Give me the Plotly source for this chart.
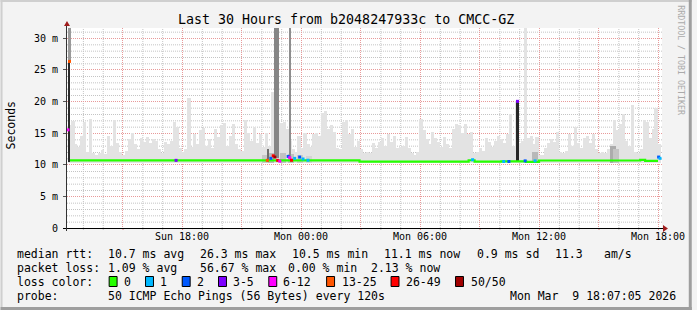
import numpy as np
import plotly.graph_objects as go

# ---------------- data (time in hours since graph start; 30 h window) ----------------
title_text = "Last 30 Hours from b2048247933c to CMCC-GZ"
x_tick_hours = [2.8, 5.8, 8.8, 11.8, 14.8, 17.8, 20.8, 23.8, 26.8, 29.8]
x_tick_labels = ["", "Sun 18:00", "", "Mon 00:00", "", "Mon 06:00", "", "Mon 12:00", "", "Mon 18:00"]
x_minor_hours = [0.8, 1.8, 3.8, 4.8, 6.8, 7.8, 9.8, 10.8, 12.8, 13.8, 15.8, 16.8,
                 18.8, 19.8, 21.8, 22.8, 24.8, 25.8, 27.8, 28.8]
y_tick_vals = [0, 5, 10, 15, 20, 25, 30]
y_tick_labels = ["0", "5 m", "10 m", "15 m", "20 m", "25 m", "30 m"]
y_minor_vals = [1, 2, 3, 4, 6, 7, 8, 9, 11, 12, 13, 14, 16, 17, 18, 19,
                21, 22, 23, 24, 26, 27, 28, 29, 31]

# smoke (max ping rtt, ms) sampled every 0.15 h starting at 0.15 h
smoke_start = 0.15
smoke_step = 0.15
smoke_base = 10.3
smoke_hi = [
    16.3, 16.9, 13.2, 12.8, 14.6, 16.8, 12.0, 17.2, 11.8, 11.6,
    11.9, 12.3, 11.7, 14.5, 13.0, 17.0, 13.5, 12.0, 11.6, 12.2,
    14.0, 15.0, 13.2, 12.5, 14.2, 13.6, 14.3, 13.4, 14.0, 13.8,
    12.4, 11.8, 13.6, 13.2, 13.8, 16.8, 15.9, 12.6, 12.0, 12.4,
    20.5, 12.8, 14.8, 13.2, 15.4, 15.8, 13.0, 14.0, 12.6, 15.6,
    14.4, 16.2, 16.6, 13.0, 14.6, 16.4, 13.2, 12.4, 12.2, 17.0,
    15.0, 13.8, 16.0, 13.4, 14.8, 12.8, 15.0, 13.0, 21.5, 19.0,
    17.0, 16.6, 16.8, 15.6, 13.8, 12.4, 12.0, 14.6, 12.6, 15.0,
    13.2, 12.8, 14.8, 15.0, 14.6, 18.2, 18.4, 15.6, 16.2, 15.2,
    12.6, 12.4, 16.8, 17.0, 14.8, 15.6, 12.8, 13.8, 12.4, 11.8,
    12.0, 11.8, 13.4, 12.6, 13.6, 14.2, 13.0, 14.8, 13.6, 14.6,
    12.6, 12.8, 13.0, 14.4, 12.6, 11.8, 11.6, 12.0, 17.2, 15.4,
    14.0, 13.2, 15.2, 14.2, 13.6, 12.8, 14.4, 13.2, 12.6, 15.6,
    16.4, 16.2, 15.0, 16.4, 14.8, 15.2, 11.8, 12.0, 12.6, 12.2,
    14.2, 13.6, 12.8, 13.8, 14.6, 14.0, 13.4, 14.8, 18.0, 13.0,
    20.0, 13.4, 13.8, 31.6, 14.2, 14.6, 13.2, 14.4, 11.6, 11.6,
    12.6, 13.4, 14.0, 13.6, 15.2, 12.0, 11.8, 12.2, 14.8, 13.0,
    16.0, 13.4, 12.6, 14.2, 14.6, 13.4, 14.8, 12.4, 11.8, 12.0,
    11.8, 12.4, 13.2, 17.0, 15.4, 16.4, 18.0, 13.8, 13.0, 19.5,
    12.0, 11.8, 12.4, 17.0, 16.8, 14.2, 15.6, 19.0, 13.2,
]

# darker smoke cores near the median (dense pings)
core_t = [10.0, 10.3, 10.9, 11.3, 11.75, 12.2, 23.6, 27.55, 27.7]
core_hi = [11.6, 11.9, 11.8, 11.7, 11.5, 11.3, 12.0, 13.0, 12.4]
core_shade = ["#c8c8c8", "#bababa", "#c2c2c2", "#c0c0c0", "#cccccc", "#d4d4d4",
              "#b8b8b8", "#acacac", "#c4c4c4"]

# spikes (pings way above the median)
spike_t = [0.1, 0.15, 10.15, 10.525, 10.65, 11.265, 22.715]
spike_lo = [10.5, 26.3, 10.5, 11.0, 11.0, 11.0, 10.5]
spike_hi = [26.3, 31.6, 12.4, 31.6, 31.6, 31.6, 20.0]
spike_shade = ["#2b2b2b", "#9a9a9a", "#6e6e6e", "#868686", "#868686", "#8e8e8e", "#262626"]

# median rtt (step line, green = no loss)
med_t = [0.15, 14.75, 20.25, 20.55, 21.9, 23.15, 23.8, 28.9, 29.15, 29.8]
med_v = [10.68, 10.48, 10.70, 10.48, 10.52, 10.45, 10.66, 10.76, 10.60, 10.60]

# loss colours
loss_colors = ["#26ff00", "#00b8ff", "#0059ff", "#7e00ff", "#ff00ff", "#ff5500", "#ff0000", "#a10000"]
loss_labels = ["0", "1", "2", "3-5", "6-12", "13-25", "26-49", "50/50"]

# median samples with packet loss
loss_t = [0.05, 0.125, 5.5, 10.1, 10.28, 10.4, 10.48, 10.62, 10.73, 11.15, 11.23, 11.32,
          11.48, 11.73, 11.9, 12.15, 20.45, 22.02, 22.28, 22.715, 23.1, 23.6, 29.83, 29.9]
loss_ms = [15.5, 26.3, 10.68, 10.68, 11.0, 11.4, 11.2, 10.68, 10.55, 11.3, 11.1, 10.7,
           11.0, 11.2, 10.9, 10.7, 10.78, 10.5, 10.5, 20.0, 10.6, 10.6, 11.2, 11.0]
loss_idx = [4, 5, 3, 5, 2, 6, 7, 6, 4, 2, 4, 6, 1, 2, 1, 1, 1, 1, 2, 3, 2, 1, 2, 1]

legend_rows = [
    [("median rtt:", 16), ("10.7 ms avg", 107.3), ("26.3 ms max", 200), ("10.5 ms min", 293.3),
     ("11.1 ms now", 386), ("0.9 ms sd", 479.3), ("11.3", 558.3), ("am/s", 607.3)],
    [("packet loss:", 16), ("1.09 % avg", 107.3), ("56.67 % max", 200), ("0.00 % min", 289),
     ("2.13 % now", 372.7)],
    [("loss color:", 16)],
    [("probe:", 16), ("50 ICMP Echo Pings (56 Bytes) every 120s", 107.3),
     ("Mon Mar  9 18:07:05 2026", 512.7)],
]
legend_row_y = [254.3, 268.3, 282.3, 296.3]
loss_box_x = [109, 145.7, 182.7, 219.3, 270, 328.3, 393.3, 458.3]
loss_label_x = [123.3, 160, 197.3, 233.3, 283.3, 343.3, 408.3, 473.3]

# ---------------- layout geometry ----------------
W, H = 697, 310
PL, PR, PT, PB = 67, 667, 28, 228
YMAX = 31.58
MONO = "DejaVu Sans Mono"
HX = 30 / (PR - PL)          # hours per pixel
MY = YMAX / (PB - PT)        # ms per pixel
MAJOR_GRID = "#e89a9a"
MINOR_GRID = "#c4c4c4"


def fx(px):
    return (px - PL) / (PR - PL)


def fy(py):
    return (PB - py) / (PB - PT)


fig = go.Figure()

smoke_t = smoke_start + smoke_step * np.arange(len(smoke_hi))
fig.add_trace(go.Bar(
    x=smoke_t, y=np.array(smoke_hi) - smoke_base, base=smoke_base,
    width=smoke_step * 1.05, marker=dict(color="#e3e3e3", line=dict(width=0)),
    hoverinfo="skip", showlegend=False))
fig.add_trace(go.Bar(
    x=core_t, y=np.array(core_hi) - smoke_base, base=smoke_base,
    width=0.3, marker=dict(color=core_shade, line=dict(width=0)),
    hoverinfo="skip", showlegend=False))
fig.add_trace(go.Bar(
    x=spike_t, y=np.array(spike_hi) - np.array(spike_lo), base=spike_lo,
    width=[0.13, 0.1, 0.1, 0.085, 0.085, 0.07, 0.15],
    marker=dict(color=spike_shade, line=dict(width=0)),
    hoverinfo="skip", showlegend=False))
fig.add_trace(go.Scatter(
    x=med_t, y=med_v, mode="lines", line=dict(color=loss_colors[0], width=2.2, shape="hv"),
    hoverinfo="skip", showlegend=False))
fig.add_trace(go.Scatter(
    x=loss_t, y=loss_ms, mode="markers",
    marker=dict(symbol="square", size=3, color=[loss_colors[i] for i in loss_idx],
                line=dict(width=0)),
    hoverinfo="skip", showlegend=False))

shapes = []
# minor grid (dotted grey), half-pixel aligned for crispness
for h in x_minor_hours:
    shapes.append(dict(type="line", xref="x", yref="paper", x0=h + 0.5 * HX, x1=h + 0.5 * HX,
                       y0=0, y1=1, line=dict(color=MINOR_GRID, width=1, dash="1px,1px"),
                       layer="below"))
for v in y_minor_vals:
    shapes.append(dict(type="line", xref="paper", yref="y", x0=0, x1=1,
                       y0=v - 0.5 * MY, y1=v - 0.5 * MY,
                       line=dict(color=MINOR_GRID, width=1, dash="1px,1px"), layer="below"))
# small ticks under the time axis
for h in x_minor_hours:
    shapes.append(dict(type="line", xref="x", yref="paper", x0=h + 0.5 * HX, x1=h + 0.5 * HX,
                       y0=fy(228), y1=fy(230), line=dict(color="#c0c0c0", width=1), layer="above"))
for h in x_tick_hours:
    shapes.append(dict(type="line", xref="x", yref="paper", x0=h + 0.5 * HX, x1=h + 0.5 * HX,
                       y0=fy(228), y1=fy(230), line=dict(color="#e08080", width=1), layer="above"))

# outer 3D frame
shapes.append(dict(type="rect", xref="paper", yref="paper", x0=fx(0), x1=fx(W), y0=fy(0), y1=fy(2),
                   fillcolor="#cfcfcf", line=dict(width=0), layer="above"))
shapes.append(dict(type="rect", xref="paper", yref="paper", x0=fx(0), x1=fx(2), y0=fy(0), y1=fy(H),
                   fillcolor="#cfcfcf", line=dict(width=0), layer="above"))
shapes.append(dict(type="rect", xref="paper", yref="paper", x0=fx(W - 3), x1=fx(W), y0=fy(0), y1=fy(H),
                   fillcolor="#9e9e9e", line=dict(width=0), layer="above"))
shapes.append(dict(type="rect", xref="paper", yref="paper", x0=fx(0), x1=fx(W), y0=fy(H - 3), y1=fy(H),
                   fillcolor="#9e9e9e", line=dict(width=0), layer="above"))
# axes lines + arrows
shapes.append(dict(type="line", xref="paper", yref="paper", x0=fx(63), x1=fx(669),
                   y0=fy(228.5), y1=fy(228.5), line=dict(color="#000000", width=1), layer="above"))
shapes.append(dict(type="line", xref="paper", yref="paper", x0=fx(66.5), x1=fx(66.5), y0=fy(24), y1=fy(231),
                   line=dict(color="#333333", width=1), layer="above"))
shapes.append(dict(type="path", xref="paper", yref="paper",
                   path=f"M {fx(64)} {fy(26)} L {fx(70)} {fy(26)} L {fx(67)} {fy(21)} Z",
                   fillcolor="#a01c1c", line=dict(width=0), layer="above"))
shapes.append(dict(type="path", xref="paper", yref="paper",
                   path=f"M {fx(668)} {fy(225)} L {fx(668)} {fy(232)} L {fx(673)} {fy(228.5)} Z",
                   fillcolor="#a01c1c", line=dict(width=0), layer="above"))
# loss colour boxes
for bx, col in zip(loss_box_x, loss_colors):
    shapes.append(dict(type="rect", xref="paper", yref="paper", x0=fx(bx + 0.5), x1=fx(bx + 8.5),
                       y0=fy(276.5), y1=fy(286.5), fillcolor=col, line=dict(color="#000000", width=1),
                       layer="above"))

annotations = []
annotations.append(dict(text=title_text, x=fx(348), y=fy(19), xref="paper", yref="paper",
                        showarrow=False, xanchor="center", yanchor="middle",
                        font=dict(family=MONO, size=13.3, color="#000000")))
annotations.append(dict(text="Seconds", x=fx(11), y=fy(125), xref="paper", yref="paper",
                        showarrow=False, xanchor="center", yanchor="middle", textangle=-90,
                        font=dict(family=MONO, size=11.5, color="#000000")))
annotations.append(dict(text="RRDTOOL / TOBI OETIKER", x=fx(686), y=fy(60), xref="paper", yref="paper",
                        showarrow=False, xanchor="center", yanchor="middle", textangle=90,
                        font=dict(family=MONO, size=8.3, color="#aaaaaa")))
for row, ry in zip(legend_rows, legend_row_y):
    for txt, tx in row:
        annotations.append(dict(text=txt.replace(" ", "&nbsp;"), x=fx(tx - 1), y=fy(ry),
                                xref="paper", yref="paper", showarrow=False,
                                xanchor="left", yanchor="middle",
                                font=dict(family=MONO, size=11.5, color="#000000")))
for lx, lab in zip(loss_label_x, loss_labels):
    annotations.append(dict(text=lab, x=fx(lx - 1), y=fy(282.3), xref="paper", yref="paper",
                            showarrow=False, xanchor="left", yanchor="middle",
                            font=dict(family=MONO, size=11.5, color="#000000")))

fig.update_layout(
    width=W, height=H,
    margin=dict(l=PL, r=W - PR, t=PT, b=H - PB, pad=0),
    paper_bgcolor="#f3f3f3", plot_bgcolor="#ffffff",
    barmode="overlay", bargap=0,
    showlegend=False,
    shapes=shapes, annotations=annotations,
    font=dict(family=MONO, size=10, color="#000000"),
    xaxis=dict(range=[0, 30], tickmode="array", tickvals=x_tick_hours, ticktext=x_tick_labels,
               showgrid=True, gridcolor=MAJOR_GRID, griddash="1px,1px", gridwidth=1,
               ticks="", zeroline=False, showline=False, ticklabelstandoff=1,
               tickfont=dict(family=MONO, size=10, color="#000000"),
               fixedrange=True),
    yaxis=dict(range=[0, YMAX], tickmode="array", tickvals=y_tick_vals, ticktext=y_tick_labels,
               showgrid=True, gridcolor=MAJOR_GRID, griddash="1px,1px", gridwidth=1,
               ticks="outside", ticklen=3, tickcolor="#555555",
               zeroline=False, showline=False, ticklabelstandoff=3,
               tickfont=dict(family=MONO, size=10, color="#000000"),
               fixedrange=True),
)

fig.write_html("out.html")
